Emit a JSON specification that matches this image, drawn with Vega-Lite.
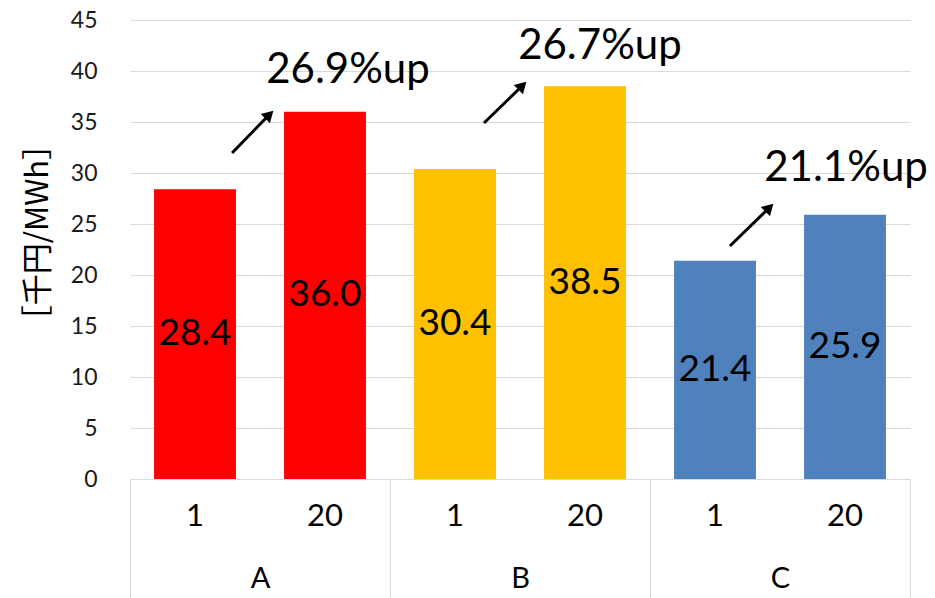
{
  "$schema": "https://vega.github.io/schema/vega-lite/v6.json",
  "width": 780,
  "height": 459,
  "autosize": {"type": "none"},
  "padding": {"left": 130, "top": 20, "right": 25, "bottom": 119},
  "background": "white",
  "config": {"view": {"stroke": null}, "font": "Lato"},
  "datasets": {
    "bars": [
      {"group": "A", "sub": "1", "value": 28.4},
      {"group": "A", "sub": "20", "value": 36.0},
      {"group": "B", "sub": "1", "value": 30.4},
      {"group": "B", "sub": "20", "value": 38.5},
      {"group": "C", "sub": "1", "value": 21.4},
      {"group": "C", "sub": "20", "value": 25.9}
    ],
    "arrows": [
      {"x": 0.785, "y": 31.96, "xe": 1.0615, "ye": 35.59},
      {"x": 2.723, "y": 34.90, "xe": 3.008, "ye": 38.43},
      {"x": 4.615, "y": 22.84, "xe": 4.908, "ye": 26.47}
    ],
    "notes": [
      {"x": 1.677, "y": 40.1, "label": "26.9%up"},
      {"x": 3.615, "y": 42.45, "label": "26.7%up"},
      {"x": 5.508, "y": 30.5, "label": "21.1%up"}
    ]
  },
  "layer": [
    {
      "data": {"name": "bars"},
      "encoding": {
        "x": {
          "field": "group", "type": "nominal",
          "scale": {"paddingInner": 0, "paddingOuter": 0},
          "axis": {
            "orient": "bottom", "title": null, "grid": false,
            "domain": true, "domainColor": "#D9D9D9", "domainWidth": 1,
            "ticks": true, "tickBand": "extent", "tickSize": 119, "tickColor": "#D9D9D9", "tickWidth": 1,
            "labelAngle": 0, "labelFontSize": 29, "labelColor": "#000000",
            "labelPadding": -20, "labelBaseline": "middle"
          }
        },
        "xOffset": {
          "field": "sub", "type": "nominal", "sort": ["1", "20"],
          "scale": {"paddingInner": 0.37, "paddingOuter": 0.185}
        }
      },
      "layer": [
        {
          "mark": {"type": "bar"},
          "encoding": {
            "y": {
              "field": "value", "type": "quantitative",
              "scale": {"domain": [0, 45], "nice": false, "zero": true},
              "title": "［千円/MWh］",
              "axis": {
                "values": [0, 5, 10, 15, 20, 25, 30, 35, 40, 45],
                "domain": false, "ticks": false,
                "grid": true, "gridColor": "#D9D9D9", "gridWidth": 1,
                "labelFontSize": 23, "labelColor": "#1a1a1a", "labelPadding": 33,
                "titleFont": "Noto Sans CJK JP", "titleFontSize": 31, "titleFontWeight": "normal",
                "titleColor": "#000000",
                "titleX": -92, "titleY": 212, "titleAngle": -90,
                "titleAlign": "center", "titleBaseline": "middle"
              }
            },
            "color": {
              "field": "group", "type": "nominal",
              "scale": {"domain": ["A", "B", "C"], "range": ["#FF0000", "#FFC000", "#4F81BD"]},
              "legend": null
            }
          }
        },
        {
          "transform": [{"calculate": "datum.value / 2", "as": "mid"}],
          "mark": {"type": "text", "fontSize": 37, "baseline": "middle", "align": "center", "color": "#000000"},
          "encoding": {
            "y": {"field": "mid", "type": "quantitative", "title": "［千円/MWh］"},
            "text": {"field": "value", "type": "quantitative", "format": ".1f"}
          }
        },
        {
          "mark": {"type": "text", "fontSize": 31, "baseline": "middle", "align": "center", "dy": 38, "color": "#000000"},
          "encoding": {
            "y": {"datum": 0, "type": "quantitative", "title": "［千円/MWh］"},
            "text": {"field": "sub", "type": "nominal"}
          }
        }
      ]
    },
    {
      "layer": [
        {
          "data": {"name": "arrows"},
          "mark": {"type": "rule", "strokeWidth": 3, "color": "#000000"},
          "encoding": {
            "x": {"field": "x", "type": "quantitative", "scale": {"domain": [0, 6], "nice": false, "zero": false}, "axis": null},
            "y": {"field": "y", "type": "quantitative", "title": "［千円/MWh］"},
            "x2": {"field": "xe"},
            "y2": {"field": "ye"}
          }
        },
        {
          "data": {"name": "arrows"},
          "mark": {"type": "point", "shape": "triangle", "filled": true, "size": 170, "angle": 45, "color": "#000000", "opacity": 1},
          "encoding": {
            "x": {"field": "xe", "type": "quantitative", "scale": {"domain": [0, 6], "nice": false, "zero": false}, "axis": null},
            "y": {"field": "ye", "type": "quantitative", "title": "［千円/MWh］"}
          }
        },
        {
          "data": {"name": "notes"},
          "mark": {"type": "text", "fontSize": 42, "baseline": "middle", "align": "center", "color": "#000000"},
          "encoding": {
            "x": {"field": "x", "type": "quantitative", "scale": {"domain": [0, 6], "nice": false, "zero": false}, "axis": null},
            "y": {"field": "y", "type": "quantitative", "title": "［千円/MWh］"},
            "text": {"field": "label", "type": "nominal"}
          }
        }
      ]
    }
  ],
  "resolve": {"scale": {"x": "independent"}}
}
